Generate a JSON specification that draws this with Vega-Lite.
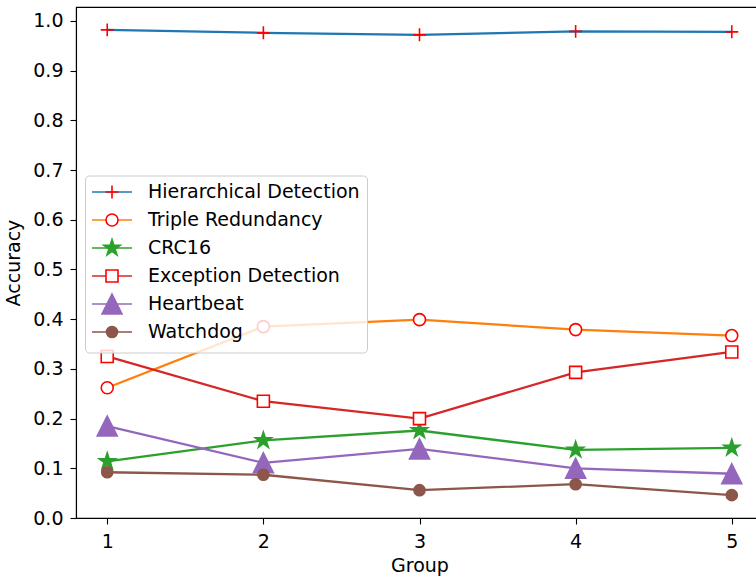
{
  "$schema": "https://vega.github.io/schema/vega-lite/v6.json",
  "width": 687,
  "height": 511,
  "autosize": {"type": "none"},
  "padding": {"left": 76, "top": 7, "right": 0, "bottom": 62},
  "background": "white",
  "data": {
    "values": [
      {"group": 1, "series": "Hierarchical Detection", "order": 1, "value": 0.982},
      {"group": 2, "series": "Hierarchical Detection", "order": 1, "value": 0.976},
      {"group": 3, "series": "Hierarchical Detection", "order": 1, "value": 0.972},
      {"group": 4, "series": "Hierarchical Detection", "order": 1, "value": 0.979},
      {"group": 5, "series": "Hierarchical Detection", "order": 1, "value": 0.978},
      {"group": 1, "series": "Triple Redundancy", "order": 2, "value": 0.262},
      {"group": 2, "series": "Triple Redundancy", "order": 2, "value": 0.385},
      {"group": 3, "series": "Triple Redundancy", "order": 2, "value": 0.399},
      {"group": 4, "series": "Triple Redundancy", "order": 2, "value": 0.379},
      {"group": 5, "series": "Triple Redundancy", "order": 2, "value": 0.367},
      {"group": 1, "series": "CRC16", "order": 3, "value": 0.114},
      {"group": 2, "series": "CRC16", "order": 3, "value": 0.156},
      {"group": 3, "series": "CRC16", "order": 3, "value": 0.176},
      {"group": 4, "series": "CRC16", "order": 3, "value": 0.137},
      {"group": 5, "series": "CRC16", "order": 3, "value": 0.141},
      {"group": 1, "series": "Exception Detection", "order": 4, "value": 0.325},
      {"group": 2, "series": "Exception Detection", "order": 4, "value": 0.235},
      {"group": 3, "series": "Exception Detection", "order": 4, "value": 0.2},
      {"group": 4, "series": "Exception Detection", "order": 4, "value": 0.293},
      {"group": 5, "series": "Exception Detection", "order": 4, "value": 0.334},
      {"group": 1, "series": "Heartbeat", "order": 5, "value": 0.185},
      {"group": 2, "series": "Heartbeat", "order": 5, "value": 0.111},
      {"group": 3, "series": "Heartbeat", "order": 5, "value": 0.139},
      {"group": 4, "series": "Heartbeat", "order": 5, "value": 0.1},
      {"group": 5, "series": "Heartbeat", "order": 5, "value": 0.089},
      {"group": 1, "series": "Watchdog", "order": 6, "value": 0.092},
      {"group": 2, "series": "Watchdog", "order": 6, "value": 0.087},
      {"group": 3, "series": "Watchdog", "order": 6, "value": 0.056},
      {"group": 4, "series": "Watchdog", "order": 6, "value": 0.068},
      {"group": 5, "series": "Watchdog", "order": 6, "value": 0.046}
    ]
  },
  "encoding": {
    "x": {
      "field": "group",
      "type": "quantitative",
      "title": "Group",
      "scale": {"domain": [0.8, 5.2], "nice": false, "zero": false},
      "axis": {
        "values": [1, 2, 3, 4, 5],
        "format": "d",
        "grid": false,
        "tickSize": 6,
        "tickWidth": 1.1,
        "tickColor": "black",
        "domainColor": "black",
        "domainWidth": 1.1,
        "labelPadding": 8,
        "labelFontSize": 19,
        "labelColor": "black",
        "labelFlush": false,
        "titleFontSize": 19,
        "titleFontWeight": "normal",
        "titleColor": "black",
        "titlePadding": 5
      }
    },
    "y": {
      "field": "value",
      "type": "quantitative",
      "title": "Accuracy",
      "scale": {"domain": [0, 1.028], "nice": false, "zero": false},
      "axis": {
        "values": [0, 0.1, 0.2, 0.3, 0.4, 0.5, 0.6, 0.7, 0.8, 0.9, 1.0],
        "format": ".1f",
        "grid": false,
        "tickSize": 6,
        "tickWidth": 1.1,
        "tickColor": "black",
        "domainColor": "black",
        "domainWidth": 1.1,
        "labelPadding": 7,
        "labelFontSize": 19,
        "labelColor": "black",
        "labelFlush": false,
        "titleFontSize": 19,
        "titleFontWeight": "normal",
        "titleColor": "black",
        "titlePadding": 9
      }
    }
  },
  "layer": [
    {
      "mark": {"type": "line", "strokeWidth": 2.3},
      "encoding": {
        "color": {
          "field": "series",
          "type": "nominal",
          "scale": {
            "domain": ["Hierarchical Detection", "Triple Redundancy", "CRC16", "Exception Detection", "Heartbeat", "Watchdog"],
            "range": ["#1f77b4", "#ff7f0e", "#2ca02c", "#d62728", "#9467bd", "#8c564b"]
          },
          "legend": {
            "orient": "none",
            "legendX": 9,
            "legendY": 168.5,
            "title": null,
            "padding": 7,
            "rowPadding": 1,
            "gridAlign": "all",
            "symbolType": "M0,-1.25M0,1.25M-2.5,0H2.5",
            "symbolSize": 256,
            "symbolStrokeWidth": 1.6,
            "symbolOffset": 10.5,
            "labelOffset": 26.5,
            "labelFontSize": 19,
            "labelLimit": 400,
            "labelColor": "black",
            "strokeColor": "#cccccc",
            "fillColor": "rgba(255,255,255,0.8)",
            "cornerRadius": 4
          }
        }
      }
    },
    {
      "mark": {"type": "point", "size": 256, "strokeWidth": 1.6, "opacity": 1, "filled": true},
      "encoding": {
        "shape": {
          "field": "series",
          "type": "nominal",
          "sort": {"field": "order", "op": "min"},
          "scale": {
            "range": [
              "M-0.81,0H0.81M0,-0.81V0.81",
              "M0.75,0A0.75,0.75,0,1,1,-0.75,0A0.75,0.75,0,1,1,0.75,0Z",
              "M0,-1.06L0.239,-0.329L1.01,-0.329L0.386,0.125L0.625,0.86L0,0.406L-0.625,0.86L-0.386,0.125L-1.01,-0.329L-0.239,-0.329Z",
              "M-0.75,-0.75H0.75V0.75H-0.75Z",
              "M0,-1.25L1.25,1.25L-1.25,1.25Z",
              "M0.69,0A0.69,0.69,0,1,1,-0.69,0A0.69,0.69,0,1,1,0.69,0Z"
            ]
          },
          "legend": {
            "orient": "none",
            "legendX": 9,
            "legendY": 168.5,
            "title": null,
            "padding": 7,
            "rowPadding": 1,
            "gridAlign": "all",
            "symbolSize": 256,
            "symbolStrokeWidth": 1.6,
            "symbolOffset": 10.5,
            "labelOffset": 26.5,
            "labelFontSize": 19,
            "labelLimit": 400,
            "labelOpacity": 0,
            "strokeColor": "transparent",
            "fillColor": "transparent"
          }
        },
        "fill": {
          "field": "series",
          "type": "nominal",
          "sort": {"field": "order", "op": "min"},
          "scale": {"range": ["transparent", "white", "#2ca02c", "white", "#9467bd", "#8c564b"]},
          "legend": {
            "orient": "none",
            "legendX": 9,
            "legendY": 168.5,
            "title": null,
            "padding": 7,
            "rowPadding": 1,
            "gridAlign": "all",
            "symbolSize": 256,
            "symbolStrokeWidth": 1.6,
            "symbolOffset": 10.5,
            "labelOffset": 26.5,
            "labelFontSize": 19,
            "labelLimit": 400,
            "labelOpacity": 0,
            "strokeColor": "transparent",
            "fillColor": "transparent"
          }
        },
        "stroke": {
          "field": "series",
          "type": "nominal",
          "sort": {"field": "order", "op": "min"},
          "scale": {"range": ["#ff0000", "#ff0000", "#2ca02c", "#ff0000", "#9467bd", "#8c564b"]},
          "legend": {
            "orient": "none",
            "legendX": 9,
            "legendY": 168.5,
            "title": null,
            "padding": 7,
            "rowPadding": 1,
            "gridAlign": "all",
            "symbolSize": 256,
            "symbolStrokeWidth": 1.6,
            "symbolOffset": 10.5,
            "labelOffset": 26.5,
            "labelFontSize": 19,
            "labelLimit": 400,
            "labelOpacity": 0,
            "strokeColor": "transparent",
            "fillColor": "transparent"
          }
        }
      }
    }
  ],
  "config": {
    "font": "DejaVu Sans",
    "view": {"stroke": "black", "strokeWidth": 1.1}
  }
}
